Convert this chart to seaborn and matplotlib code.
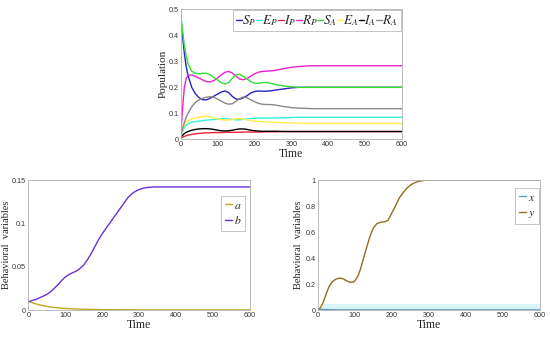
import numpy as np
import pandas as pd
import matplotlib
matplotlib.use("Agg")
import matplotlib.pyplot as plt
import seaborn as sns

# ---------------- data ----------------
T = [0, 5, 10, 15, 20, 30, 40, 50, 60, 70, 80, 90, 100, 110, 120, 130, 140, 150,
     160, 170, 180, 190, 200, 210, 220, 230, 240, 250, 260, 280, 300, 320, 340,
     360, 400, 450, 500, 550, 600]
S_P = [0.478, 0.40, 0.33, 0.28, 0.245, 0.20, 0.175, 0.16, 0.152, 0.152, 0.158, 0.166,
       0.174, 0.182, 0.186, 0.18, 0.165, 0.155, 0.154, 0.160, 0.168, 0.178, 0.184,
       0.186, 0.185, 0.185, 0.186, 0.188, 0.190, 0.194, 0.198, 0.2, 0.2, 0.2, 0.2,
       0.2, 0.2, 0.2, 0.2]
E_P = [0.01, 0.03, 0.045, 0.055, 0.06, 0.066, 0.068, 0.07, 0.072, 0.074, 0.075, 0.076,
       0.078, 0.079, 0.08, 0.078, 0.077, 0.075, 0.075, 0.077, 0.079, 0.08, 0.081,
       0.082, 0.082, 0.082, 0.082, 0.082, 0.082, 0.083, 0.084, 0.085, 0.085, 0.085,
       0.085, 0.085, 0.085, 0.085, 0.085]
I_P = [0.005, 0.008, 0.011, 0.014, 0.016, 0.019, 0.021, 0.023, 0.024, 0.025, 0.025,
       0.026, 0.026, 0.026, 0.027, 0.027, 0.027, 0.027, 0.027, 0.028, 0.028, 0.028,
       0.028, 0.028, 0.028, 0.029, 0.029, 0.029, 0.029, 0.03, 0.03, 0.03, 0.03, 0.03,
       0.03, 0.03, 0.03, 0.03, 0.03]
R_P = [0.01, 0.12, 0.20, 0.235, 0.245, 0.248, 0.242, 0.235, 0.228, 0.222, 0.221,
       0.226, 0.236, 0.248, 0.258, 0.261, 0.255, 0.243, 0.232, 0.229, 0.234, 0.243,
       0.252, 0.258, 0.261, 0.262, 0.263, 0.264, 0.266, 0.272, 0.277, 0.28, 0.282,
       0.283, 0.283, 0.283, 0.283, 0.283, 0.283]
S_A = [0.48, 0.42, 0.36, 0.32, 0.29, 0.262, 0.254, 0.252, 0.254, 0.254, 0.248, 0.238,
       0.228, 0.218, 0.213, 0.218, 0.235, 0.248, 0.25, 0.242, 0.232, 0.222, 0.216,
       0.215, 0.218, 0.219, 0.217, 0.213, 0.21, 0.205, 0.202, 0.2, 0.2, 0.2, 0.2,
       0.2, 0.2, 0.2, 0.2]
E_A = [0.01, 0.035, 0.055, 0.065, 0.072, 0.078, 0.082, 0.085, 0.087, 0.088, 0.086,
       0.082, 0.079, 0.076, 0.074, 0.074, 0.076, 0.079, 0.08, 0.078, 0.075, 0.072,
       0.07, 0.069, 0.068, 0.067, 0.066, 0.066, 0.065, 0.064, 0.063, 0.062, 0.061,
       0.061, 0.061, 0.061, 0.061, 0.061, 0.061]
I_A = [0.008, 0.015, 0.022, 0.027, 0.03, 0.035, 0.038, 0.04, 0.041, 0.041, 0.04,
       0.038, 0.035, 0.033, 0.032, 0.033, 0.035, 0.038, 0.04, 0.04, 0.038, 0.035,
       0.033, 0.032, 0.031, 0.031, 0.031, 0.031, 0.031, 0.03, 0.03, 0.03, 0.03, 0.03,
       0.03, 0.03, 0.03, 0.03, 0.03]
R_A = [0.01, 0.04, 0.065, 0.085, 0.10, 0.125, 0.142, 0.152, 0.158, 0.162, 0.164,
       0.162, 0.155, 0.147, 0.139, 0.135, 0.137, 0.146, 0.157, 0.163, 0.16, 0.152,
       0.145, 0.139, 0.135, 0.134, 0.134, 0.133, 0.131, 0.126, 0.122, 0.12, 0.119,
       0.118, 0.118, 0.118, 0.118, 0.118, 0.118]

T2 = [0, 10, 20, 30, 40, 50, 60, 70, 80, 90, 100, 110, 120, 130, 140, 150, 160, 170,
      180, 190, 200, 210, 220, 230, 240, 250, 260, 270, 280, 290, 300, 310, 320, 340,
      360, 400, 500, 600]
a_vals = [0.01, 0.0085, 0.0072, 0.006, 0.005, 0.0042, 0.0035, 0.003, 0.0025, 0.0021,
          0.0018, 0.0016, 0.0014, 0.0012, 0.001, 0.0009, 0.0008, 0.0007, 0.0006,
          0.0005, 0.0004, 0.0004, 0.0003, 0.0003, 0.0003, 0.0002, 0.0002, 0.0002,
          0.0002, 0.0002, 0.0001, 0.0001, 0.0001, 0.0001, 0.0001, 0.0001, 0.0001,
          0.0001]
b_vals = [0.0095, 0.011, 0.012, 0.014, 0.016, 0.018, 0.021, 0.025, 0.029, 0.034,
          0.038, 0.041, 0.043, 0.045, 0.048, 0.052, 0.058, 0.065, 0.073, 0.081,
          0.088, 0.094, 0.1, 0.106, 0.112, 0.118, 0.124, 0.13, 0.134, 0.137, 0.139,
          0.1405, 0.1413, 0.142, 0.142, 0.142, 0.142, 0.142]

T3 = [0, 5, 10, 15, 20, 25, 30, 35, 40, 45, 50, 55, 60, 65, 70, 75, 80, 85, 90, 95,
      100, 105, 110, 115, 120, 130, 140, 150, 160, 170, 180, 190, 200, 210, 220, 230,
      240, 250, 260, 270, 280, 290, 300, 350, 400, 500, 600]
y_vals = [0.0, 0.01, 0.03, 0.06, 0.1, 0.14, 0.175, 0.2, 0.218, 0.23, 0.238, 0.243,
          0.245, 0.243, 0.238, 0.23, 0.222, 0.216, 0.213, 0.214, 0.222, 0.244, 0.27,
          0.31, 0.36, 0.46, 0.555, 0.63, 0.665, 0.675, 0.678, 0.69, 0.745, 0.80, 0.86,
          0.9, 0.935, 0.96, 0.976, 0.988, 0.994, 0.998, 1.0, 1.0, 1.0, 1.0, 1.0]
x_vals = [0.01, 0.008, 0.006, 0.005, 0.004, 0.003, 0.003, 0.002, 0.002, 0.002, 0.001,
          0.001, 0.001, 0.001, 0.001, 0.001, 0.001, 0.001, 0.001, 0.001, 0.001, 0.001,
          0.001, 0.001, 0.001, 0.001, 0.001, 0.001, 0.001, 0.001, 0.001, 0.001, 0.001,
          0.001, 0.001, 0.001, 0.001, 0.001, 0.001, 0.001, 0.001, 0.001, 0.001, 0.001,
          0.001, 0.001, 0.001]

top_names = [r"$S_P$", r"$E_P$", r"$I_P$", r"$R_P$", r"$S_A$", r"$E_A$", r"$I_A$", r"$R_A$"]
top_series = [S_P, E_P, I_P, R_P, S_A, E_A, I_A, R_A]
top_colors = ["#2424c0", "#33eedd", "#ee2040", "#ee22cc", "#33dd33", "#ffee44",
              "#000000", "#888888"]

# ---------------- style ----------------
sns.set_style("white")
plt.rcParams["font.family"] = ["Liberation Sans", "DejaVu Sans"]
plt.rcParams["mathtext.fontset"] = "stix"
serif = "Liberation Serif"

fig = plt.figure(figsize=(5.5, 3.39), dpi=100)
ax_top = fig.add_axes([0.3285, 0.589, 0.4025, 0.3835])
ax_bl = fig.add_axes([0.0515, 0.0855, 0.403, 0.3835])
ax_br = fig.add_axes([0.5776, 0.0855, 0.404, 0.3835])


def style_axes(ax):
    for s in ax.spines.values():
        s.set_color("#b0b0b0")
        s.set_linewidth(0.6)
    ax.tick_params(direction="in", length=2, width=0.5, colors="#b0b0b0",
                   labelcolor="#333333", labelsize=5.2, pad=1.5)
    ax.set_xlim(0, 600)
    ax.set_xticks([0, 100, 200, 300, 400, 500, 600])
    ax.set_xlabel("Time", family=serif, fontsize=8.5, labelpad=0)


def style_legend(leg):
    leg.get_frame().set_edgecolor("#999999")
    leg.get_frame().set_linewidth(0.5)


# ---- top chart ----
df_top = pd.DataFrame({
    "t": np.tile(T, len(top_names)),
    "v": np.concatenate([np.array(s) for s in top_series]),
    "series": np.repeat(top_names, len(T)),
})
sns.lineplot(data=df_top, x="t", y="v", hue="series", hue_order=top_names,
             palette=dict(zip(top_names, top_colors)), estimator=None,
             linewidth=1.0, ax=ax_top, legend=False)
style_axes(ax_top)
ax_top.set_ylim(0, 0.5)
ax_top.set_yticks([0, 0.1, 0.2, 0.3, 0.4, 0.5])
ax_top.set_yticklabels(["0", "0.1", "0.2", "0.3", "0.4", "0.5"])
ax_top.set_ylabel("Population", family=serif, fontsize=8)
ax_top.yaxis.set_label_coords(-0.057, 0.5)
handles = ax_top.get_lines()[:len(top_names)]
leg = ax_top.legend(handles, top_names, ncol=8, loc="upper right",
                    bbox_to_anchor=(0.995, 0.995), fontsize=9.5, handlelength=0.45,
                    handletextpad=0.0, columnspacing=0.0, borderpad=0.25,
                    borderaxespad=0.0, frameon=True, fancybox=False)
style_legend(leg)

# ---- bottom left ----
bl_names = [r"$a$", r"$b$"]
df_bl = pd.DataFrame({
    "t": np.tile(T2, 2),
    "v": np.concatenate([a_vals, b_vals]),
    "series": np.repeat(bl_names, len(T2)),
})
sns.lineplot(data=df_bl, x="t", y="v", hue="series", hue_order=bl_names,
             palette={bl_names[0]: "#bfa81c", bl_names[1]: "#6a30d8"},
             estimator=None, linewidth=1.0, ax=ax_bl, legend=False)
style_axes(ax_bl)
ax_bl.set_ylim(0, 0.15)
ax_bl.set_yticks([0, 0.05, 0.1, 0.15])
ax_bl.set_yticklabels(["0", "0.05", "0.1", "0.15"])
ax_bl.set_ylabel("Behavioral  variables", family=serif, fontsize=7.5)
ax_bl.yaxis.set_label_coords(-0.08, 0.5)
leg2 = ax_bl.legend(ax_bl.get_lines()[:2], bl_names, loc="upper right",
                    bbox_to_anchor=(0.977, 0.877), fontsize=8.5, handlelength=0.6,
                    handletextpad=0.15, borderpad=0.3, labelspacing=0.3,
                    borderaxespad=0.0, frameon=True, fancybox=False)
style_legend(leg2)

# ---- bottom right ----
br_names = [r"$x$", r"$y$"]
ax_br.axhspan(0, 0.044, xmin=0.025, xmax=1.0, color="#d8f6f8", lw=0, zorder=0)
df_br = pd.DataFrame({
    "t": np.tile(T3, 2),
    "v": np.concatenate([x_vals, y_vals]),
    "series": np.repeat(br_names, len(T3)),
})
sns.lineplot(data=df_br, x="t", y="v", hue="series", hue_order=br_names,
             palette={br_names[0]: "#5a9bc0", br_names[1]: "#8f6e1e"},
             estimator=None, linewidth=1.0, ax=ax_br, legend=False)
style_axes(ax_br)
ax_br.set_ylim(0, 1)
ax_br.set_yticks([0, 0.2, 0.4, 0.6, 0.8, 1.0])
ax_br.set_yticklabels(["0", "0.2", "0.4", "0.6", "0.8", "1"])
ax_br.set_ylabel("Behavioral  variables", family=serif, fontsize=7.5)
ax_br.yaxis.set_label_coords(-0.066, 0.5)
leg3 = ax_br.legend(ax_br.get_lines()[:2], br_names, loc="upper right",
                    bbox_to_anchor=(0.995, 0.938), fontsize=8.5, handlelength=0.6,
                    handletextpad=0.15, borderpad=0.3, labelspacing=0.3,
                    borderaxespad=0.0, frameon=True, fancybox=False)
style_legend(leg3)

fig.savefig("out.png", dpi=100)
